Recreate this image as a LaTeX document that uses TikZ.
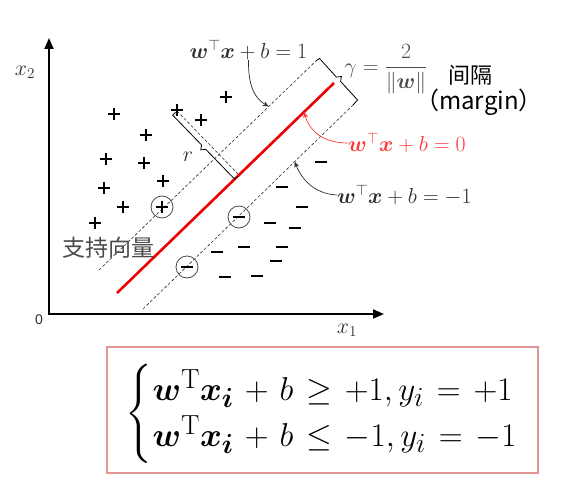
\documentclass[tikz,border=0pt]{standalone}
\usepackage{amsmath,amssymb,bm}
\usepackage{fontspec}
\newfontfamily\cjk{Noto Sans CJK SC}
\newfontfamily\arialf{Liberation Sans}
\usetikzlibrary{arrows.meta,calc}
\definecolor{linered}{RGB}{238,0,0}
\definecolor{labred}{RGB}{255,55,55}
\definecolor{boxred}{RGB}{226,150,150}
\definecolor{dgray}{RGB}{45,45,45}
\definecolor{mgray}{RGB}{75,75,75}
\begin{document}
\begin{tikzpicture}[x=1pt,y=-1pt,
  axisline/.style={line width=2pt,line join=miter},
  dashline/.style={draw=dgray,line width=0.6pt,dash pattern=on 3pt off 2pt},
  redline/.style={draw=linered,line width=2.6pt},
  markline/.style={line width=1.7pt,black},
  svcirc/.style={circle,draw=mgray,line width=0.8pt,minimum size=22pt,inner sep=0pt},
  lbl/.style={inner sep=0pt,font=\fontsize{20.74}{25}\selectfont},
  callout/.style={line width=0.7pt,-{Stealth[length=6pt,width=5pt]}},
  bracketline/.style={line width=0.8pt,draw=black,line join=miter},
  pplus/.pic={\draw[markline] (-6,0)--(6,0) (0,-6)--(0,6);},
  pminus/.pic={\draw[markline] (-6,0)--(6,0);}
]
\useasboundingbox (0,0) rectangle (573,489);

% axes
\coordinate (O) at (49,314);
\coordinate (ytop) at (49,38);
\coordinate (xend) at (384,314);
\draw[axisline,{Triangle[length=11pt,width=9pt]}-{Triangle[length=11pt,width=9pt]}] (ytop) -- (O) -- (xend);
\node[lbl,text=dgray] (x2lab) at (25,72) {\scalebox{1.05}{$x_2$}};
\node[lbl,text=dgray] (x1lab) at (347,330) {\scalebox{1.05}{$x_1$}};
\node[inner sep=0pt,text=dgray,font=\arialf\fontsize{14}{16}\selectfont] (zerolab) at (39,320) {0};

% separating lines
\coordinate (u1) at (99,270);  \coordinate (u2) at (316,61);
\coordinate (r1) at (117,293); \coordinate (r2) at (334,83);
\coordinate (l1) at (143,309); \coordinate (l2) at (353,105);
\draw[dashline] (u1) -- (u2);
\draw[dashline] (l1) -- (l2);
\draw[redline] (r1) -- (r2);

% margin bracket
\draw[bracketline] (u2) -- (319.5,58.5) -- (336.4,77.1) -- (341.4,76.5) -- (340.6,81.4) -- (357.5,100) -- (l2);

% r bracket
\coordinate (rA) at (177,111);
\coordinate (rB) at (238.9,174.9);
\draw[dashline] (rA) -- (rB);
\draw[bracketline] (175.6,112.4) -- (172.7,115.2) -- (201.6,145.0) -- (200.8,149.9) -- (205.7,149.3) -- (234.6,179.1) -- (237.5,176.3);
\node[lbl,text=dgray] (rlab) at (188,157) {\scalebox{1.05}{$r$}};

% plus points
\foreach \p in {(114,114),(146,135),(226,97),(177,110),(201,120),(106,159),(144,163),(163,181),(104,188),(123,207),(95,223),(162,207)}
  \pic at \p {pplus};
% minus points
\foreach \p in {(321,162),(282,187),(302,207),(270,223),(295,228),(217,252),(244,247),(282,247),(276,261),(225,277),(257,276),(239,217),(187,267)}
  \pic at \p {pminus};
% support vectors
\node[svcirc] (sv1) at (162,207) {};
\node[svcirc] (sv2) at (239,217) {};
\node[svcirc] (sv3) at (187,267) {};
\node[inner sep=0pt,text=mgray,font=\cjk\fontsize{23}{26}\selectfont] (svlab) at (108,248) {支持向量};

% labels
\node[lbl,text=dgray] (lab1) at (248.5,50) {\scalebox{1.05}{$\boldsymbol{w}^{\top}\boldsymbol{x}+b=1$}};
\node[lbl,text=labred,anchor=west] (lab2) at (348,143) {\scalebox{1.05}{$\boldsymbol{w}^{\top}\boldsymbol{x}+b=0$}};
\node[lbl,text=dgray,anchor=west] (lab3) at (337,195) {\scalebox{1.05}{$\boldsymbol{w}^{\top}\boldsymbol{x}+b=-1$}};
\node[lbl,text=mgray] (gamlab) at (386,69) {\scalebox{1.05}{$\gamma=\dfrac{2}{\|\boldsymbol{w}\|}$}};
\node[inner sep=0pt,font=\cjk\fontsize{22}{26}\selectfont] (marglab1) at (470,75) {间隔};
\node[inner sep=0pt,font=\cjk\fontsize{24}{28}\selectfont] (marglab2) at (479,102) {（margin）};

\coordinate (t1) at ($(u1)!0.782!(u2)$);
\coordinate (t2) at ($(r1)!0.862!(r2)$);
\coordinate (t3) at ($(l1)!0.722!(l2)$);
\draw[callout,dgray] (lab1.south) .. controls (248,88) and (256,99) .. (t1);
\draw[callout,labred] (lab2.west) .. controls (318,143) and (308,126) .. (t2);
\draw[callout,dgray] (lab3.west) .. controls (315,194) and (302,180) .. (t3);

% equation box
\node[draw=boxred,line width=1.2pt,minimum width=431pt,minimum height=126pt,inner sep=0pt] (eqbox) at (322.5,410) {};
\node[inner sep=0pt,font=\fontsize{24.88}{30}\selectfont] (eq) at (322,414)
 {\scalebox{1.33}{$\medmuskip=6mu\thickmuskip=7mu\renewcommand\arraystretch{1.15}\left\{\begin{array}{@{}l@{}}
 \boldsymbol{w}^{\mathrm{T}}\boldsymbol{x}_{\boldsymbol{i}}+b\geq+1,y_i=+1\\
 \boldsymbol{w}^{\mathrm{T}}\boldsymbol{x}_{\boldsymbol{i}}+b\leq-1,y_i=-1
 \end{array}\right.$}};
\end{tikzpicture}
\end{document}
